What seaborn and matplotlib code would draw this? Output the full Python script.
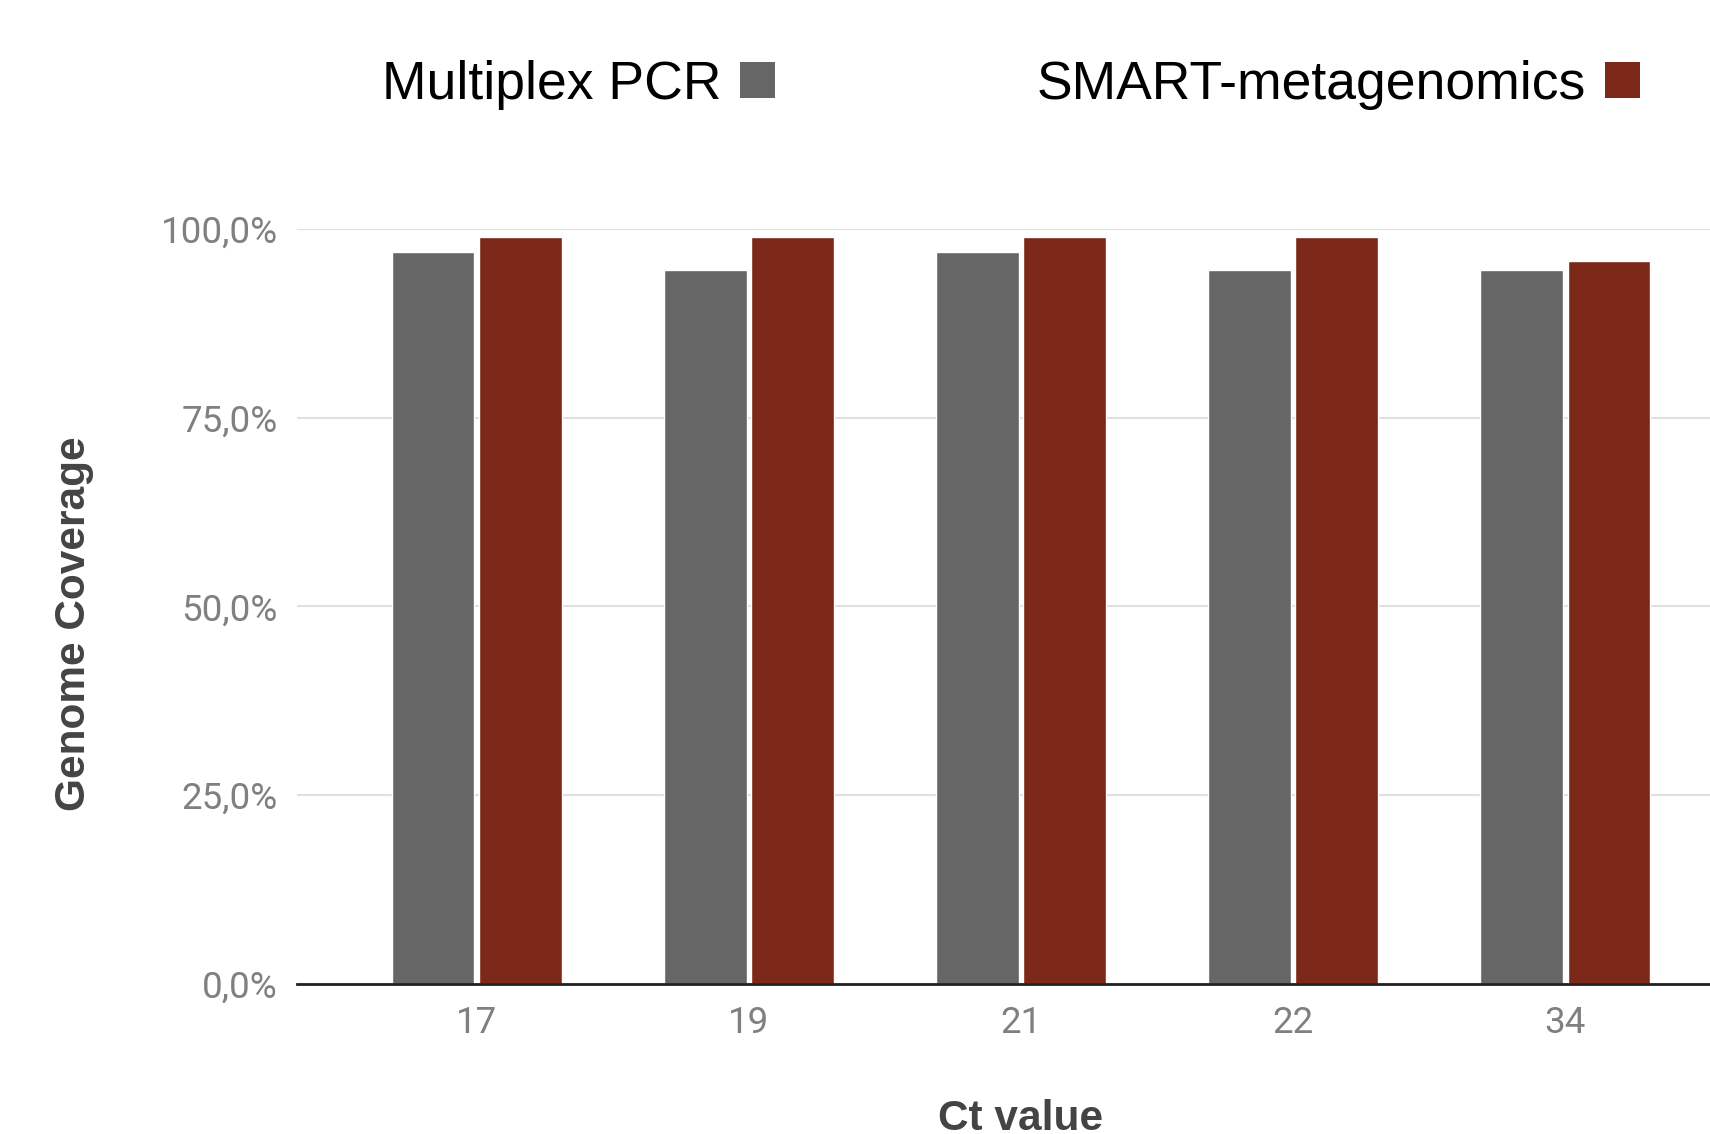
import pandas as pd
import numpy as np
import matplotlib.pyplot as plt
import seaborn as sns
from matplotlib.patches import Patch
from matplotlib.ticker import FuncFormatter

# data
ct_values = ['17', '19', '21', '22', '34']
multiplex_pcr = [97.0, 94.5, 97.0, 94.5, 94.5]
smart_meta = [99.0, 99.0, 99.0, 99.0, 95.8]
methods = ['Multiplex PCR', 'SMART-metagenomics']
colors = ['#666666', '#7b2818']

df = pd.DataFrame({
    'Ct value': ct_values * 2,
    'Coverage': multiplex_pcr + smart_meta,
    'Method': [methods[0]] * len(ct_values) + [methods[1]] * len(ct_values),
})

sns.set_style('white')
plt.rcParams['font.family'] = ['Liberation Sans', 'DejaVu Sans']

fig = plt.figure(figsize=(17.1, 11.34), dpi=100)
ax = fig.add_axes([0.1737, 0.1323, 0.8468, 0.6658])

sns.barplot(data=df, x='Ct value', y='Coverage', hue='Method', palette=colors,
            width=0.64, gap=0.05, saturation=1, legend=False, ax=ax)

ax.set_xlim(-0.66, 4.66)
ax.set_ylim(0, 100)
ax.set_yticks([0, 25, 50, 75, 100])
ax.yaxis.set_major_formatter(FuncFormatter(lambda v, p: f"{v:.1f}%".replace('.', ',')))
ax.grid(axis='y', color='#e0e0e0', linewidth=1.5)
ax.set_axisbelow(True)
sns.despine(ax=ax, left=True, top=True, right=True)
ax.spines['bottom'].set_color('#222222')
ax.spines['bottom'].set_linewidth(2)
ax.tick_params(axis='both', length=0, labelsize=26.5, colors='#808080')
ax.tick_params(axis='y', pad=14)
ax.tick_params(axis='x', pad=15)
for lab in ax.get_xticklabels() + ax.get_yticklabels():
    lab.set_fontfamily('Roboto')

ax.set_xlabel('Ct value', fontsize=30.5, fontweight='bold', color='#444444', labelpad=42)
ax.set_ylabel('Genome Coverage', fontsize=30.5, fontweight='bold', color='#444444')
ax.yaxis.set_label_coords(-0.14, 0.477)

handles = [Patch(facecolor=c, edgecolor='none') for c in colors]
fig.legend(handles, methods, loc='center left', bbox_to_anchor=(0.2234, 0.925), ncol=2,
           frameon=False, markerfirst=False, fontsize=38.5, labelcolor='black',
           handlelength=0.65, handleheight=0.65, handletextpad=0.35, columnspacing=4.9,
           borderpad=0, borderaxespad=0)

plt.savefig('out.png', dpi=100)
